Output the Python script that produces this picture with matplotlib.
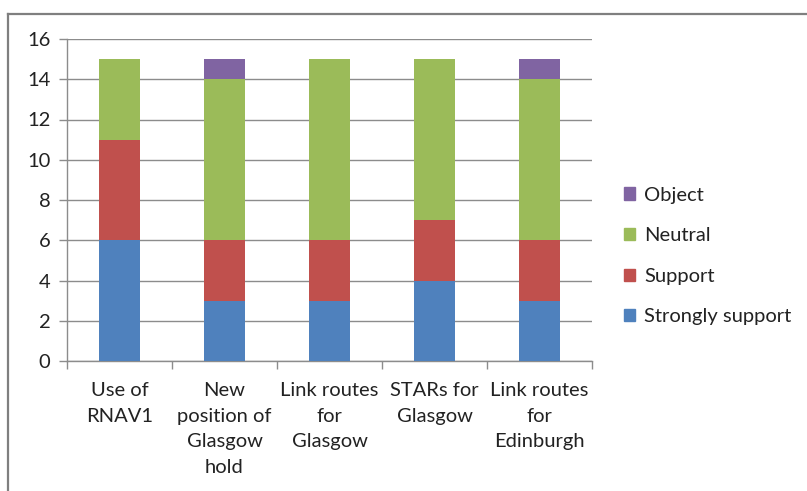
import numpy as np
import matplotlib.pyplot as plt
from matplotlib.lines import Line2D
from matplotlib.patches import Patch

plt.rcParams['font.family'] = ['Lato', 'DejaVu Sans']

# data
categories = ['Use of\nRNAV1', 'New\nposition of\nGlasgow\nhold', 'Link routes\nfor\nGlasgow',
              'STARs for\nGlasgow', 'Link routes\nfor\nEdinburgh']
strongly_support = [6, 3, 3, 4, 3]
support = [5, 3, 3, 3, 3]
neutral = [4, 8, 9, 8, 8]
obj = [0, 1, 0, 0, 1]

series = [('Strongly support', strongly_support, '#4f81bd'),
          ('Support', support, '#c0504d'),
          ('Neutral', neutral, '#9bbb59'),
          ('Object', obj, '#8064a2')]

W, H = 807, 491
fig = plt.figure(figsize=(W / 100, H / 100), dpi=100)
ax = fig.add_axes([67 / W, 1 - 361 / H, (592 - 67) / W, (361 - 39) / H])

x = np.arange(len(categories))
bottom = np.zeros(len(categories))
for name, vals, col in series:
    ax.bar(x, vals, width=0.39, bottom=bottom, color=col, zorder=3)
    bottom += np.array(vals)

ax.set_xlim(-0.5, len(categories) - 0.5)
ax.set_ylim(0, 16)
ax.set_yticks(range(0, 17, 2))
ax.yaxis.grid(True, color='#8c8c8c', lw=1, zorder=0)

ax.set_xticks(x)
ax.set_xticklabels(categories, fontsize=14.5, linespacing=1.62, color='#222222')
ax.set_xticks(np.arange(-0.5, len(categories)), minor=True)
ax.tick_params(axis='x', which='major', length=0, pad=15)
ax.tick_params(axis='x', which='minor', length=6, color='#8c8c8c', width=1)
ax.tick_params(axis='y', length=6, color='#8c8c8c', width=1, labelsize=14.5, labelcolor='#222222', pad=6)

for s in ['top', 'right']:
    ax.spines[s].set_visible(False)
for s in ['left', 'bottom']:
    ax.spines[s].set_color('#8c8c8c')
    ax.spines[s].set_linewidth(1)

handles = [Patch(color=col, label=name) for name, vals, col in reversed(series)]
fig.legend(handles=handles, loc='center left', bbox_to_anchor=(606 / W, 1 - 256 / H),
           frameon=False, fontsize=14.5, handlelength=0.55, handleheight=0.55,
           handletextpad=0.45, labelspacing=1.17, labelcolor='#222222')

# chart border
fig.add_artist(Line2D([8 / W, 1], [1 - 14 / H, 1 - 14 / H], color='#7f7f7f', lw=1.6))
fig.add_artist(Line2D([8 / W, 8 / W], [0, 1 - 14 / H], color='#7f7f7f', lw=1.6))

fig.savefig('out.png', dpi=100)
